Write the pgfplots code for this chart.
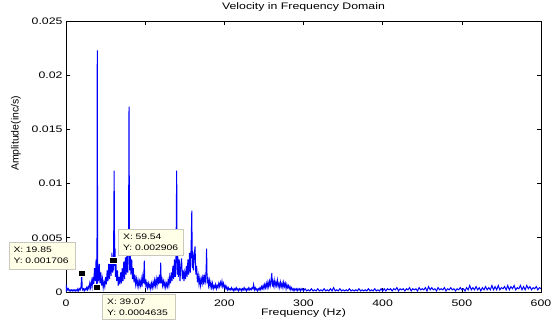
\documentclass[border=0pt]{standalone}
\usepackage{fontspec}
\setmainfont{Liberation Sans}[FakeStretch=1.3]
\newfontfamily\ylfont{Liberation Sans}
\usepackage{pgfplots}
\pgfplotsset{compat=1.18}
\definecolor{tipfill}{RGB}{255,255,232}
\definecolor{tipedge}{RGB}{200,200,190}
\begin{document}
\begin{tikzpicture}
\begin{axis}[
  scale only axis, width=475bp, height=271bp,
  xmin=0, xmax=600, ymin=0, ymax=0.025,
  xtick={0,100,200,300,400,500,600},
  xticklabels={0,,200,300,400,500,600},
  ytick={0,0.005,0.01,0.015,0.02,0.025},
  yticklabels={0,0.005,0.01,0.015,0.02,0.025},
  scaled y ticks=false,
  tick align=inside, major tick length=4bp,
  tick style={black, line width=0.6bp},
  axis line style={line width=0.9bp},
  ticklabel style={font=\fontsize{9.5}{11}\selectfont},
  xticklabel style={anchor=base, yshift=-14bp},
  title={Velocity in Frequency Domain},
  title style={font=\fontsize{9.5}{11}\selectfont, at={(axis description cs:0.5,1)}, anchor=base, yshift=6bp},
  xlabel={Frequency (Hz)},
  xlabel style={font=\fontsize{9.5}{11}\selectfont, at={(axis description cs:0.5,0)}, anchor=base, yshift=-23bp},
  ylabel={Amplitude(inc/s)},
  ylabel style={font=\ylfont\fontsize{10.5}{12}\selectfont, at={(axis description cs:0,0.585)}, anchor=center, yshift=50bp},
]
\addplot[blue, line width=1bp, mark=none] coordinates {
(0,0.0007)(0.5,0.0002)(1,0.0004)(2,0.0002)(3,0.0003)(4,0.0001)(5,0.0002)(6,0.0001)(7,0.0002)(8,0.0001)(9,0.0002)(10,0.0001)(11,0.0002)(12,0.0001)(13,0.0002)(14,0.0001)(15,0.0003)(16,0.0001)(17,0.0003)(18,0.0002)(19,0.0005)(19.85,0.001706)(20.5,0.0003)(21,0.0002)(22,0.0003)(23,0.0001)(24,0.0003)(25,0.0002)(26,0.0004)(27,0.0002)(28,0.0005)(29,0.0003)(30,0.0008)(31,0.0004)(32,0.0010)(33,0.0005)(34,0.0014)(35,0.0007)(36,0.0022)(37,0.0010)(38,0.0030)(38.6,0.0008)(39.07,0.0004635)(39.5,0.0223)(40,0.0008)(40.5,0.0024)(41,0.0010)(42,0.0026)(43,0.0008)(44,0.0018)(45,0.0006)(46,0.0012)(47,0.0004)(48,0.0009)(49,0.0005)
(50,0.0014)(51,0.0007)(52,0.0020)(53,0.0010)(54,0.0026)(55,0.0012)(56,0.0030)(57,0.0015)(58,0.0036)(59,0.0018)(59.54,0.002906)(60,0.0020)(60.8,0.0112)(61.5,0.0024)(62,0.0040)(62.5,0.0014)(63,0.0028)(64,0.0010)(65,0.0020)(66,0.0006)(67,0.0014)(68,0.0007)(69,0.0018)(70,0.0008)(71,0.0022)(72,0.0010)(73,0.0028)(74,0.0012)(75,0.0032)(76,0.0016)(77,0.0038)(78,0.0018)(79,0.0042)(79.6,0.0171)(80.3,0.0020)(81,0.0036)(82,0.0016)(83,0.0030)(84,0.0012)(85,0.0022)(86,0.0009)(87,0.0016)(88,0.0007)(89,0.0012)(90,0.0006)(91,0.0011)(92,0.0005)(93,0.0010)(94,0.0006)(95,0.0012)(96,0.0005)(97,0.0014)(98,0.0008)(98.9,0.0029)(99.6,0.0007)
(100,0.0012)(101,0.0005)(102,0.0009)(103,0.0004)(104,0.0008)(105,0.0004)(106,0.0007)(107,0.0003)(108,0.0008)(109,0.0004)(110,0.0009)(111,0.0005)(112,0.0011)(113,0.0006)(114,0.0012)(115,0.0006)(116,0.0014)(117,0.0007)(118,0.0016)(119,0.0008)(119.6,0.0027)(120.3,0.0008)(121,0.0014)(122,0.0006)(123,0.0010)(124,0.0005)(125,0.0009)(126,0.0004)(127,0.0008)(128,0.0005)(129,0.0011)(130,0.0006)(131,0.0014)(132,0.0008)(133,0.0018)(134,0.0010)(135,0.0024)(136,0.0012)(137,0.0030)(138,0.0014)(139,0.0034)(139.8,0.0112)(140.5,0.0016)(141,0.0036)(142,0.0014)(143,0.0030)(144,0.0010)(145,0.0024)(146,0.0031)(147,0.0012)(148,0.0020)(149,0.0010)
(150,0.0018)(151,0.0012)(152,0.0024)(153,0.0014)(154,0.0030)(155,0.0016)(156,0.0036)(157,0.0018)(158,0.0040)(158.9,0.0075)(159.6,0.0022)(160,0.0038)(161,0.0020)(162,0.0034)(163,0.0042)(164,0.0016)(165,0.0024)(166,0.0009)(167,0.0015)(168,0.0007)(169,0.0013)(170,0.0006)(171,0.0012)(172,0.0008)(173,0.0016)(174,0.0007)(175,0.0014)(176,0.0010)(177,0.0020)(177.6,0.0040)(178.3,0.0008)(179,0.0014)(180,0.0006)(181,0.0011)(182,0.0005)(183,0.0009)(184,0.0004)(185,0.0008)(186,0.0003)(187,0.0006)(188,0.0004)(189,0.0007)(190,0.0003)(191,0.0006)(192,0.0004)(193,0.0008)(194,0.0005)(195,0.0009)(196,0.0006)(197,0.0010)(198,0.0005)(199,0.0008)
(200,0.0004)(201,0.0006)(202,0.0003)(203,0.0005)(204,0.0002)(205,0.0004)(206,0.0002)(207,0.0003)(208,0.0002)(209,0.0004)(210,0.0002)(211,0.0003)(212,0.0001)(213,0.0003)(214,0.0002)(215,0.0004)(216,0.0002)(217,0.0003)(218,0.0001)(219,0.0003)(220,0.0002)(221,0.0003)(222,0.0001)(223,0.0003)(224,0.0002)(225,0.0004)(226,0.0002)(227,0.0003)(228,0.0001)(229,0.0003)(230,0.0002)(231,0.0004)(232,0.0002)(233,0.0003)(234,0.0002)(235,0.0004)(236,0.0003)(237,0.0007)(238,0.0002)(239,0.0004)(240,0.0002)(241,0.0003)(242,0.0001)(243,0.0003)(244,0.0002)(245,0.0004)(246,0.0002)(247,0.0005)(248,0.0003)(249,0.0006)
(250,0.0003)(251,0.0007)(252,0.0004)(253,0.0008)(254,0.0004)(255,0.0009)(256,0.0005)(257,0.0010)(258,0.0006)(259,0.0011)(260,0.00175)(260.6,0.0005)(261,0.0010)(262,0.0006)(263,0.0011)(264,0.0005)(265,0.0009)(266,0.0006)(267,0.0011)(268,0.0005)(269,0.0008)(270,0.0004)(271,0.0009)(272,0.0005)(273,0.0008)(274,0.0004)(275,0.0009)(276,0.0005)(277,0.0008)(278,0.0003)(279,0.0007)(280,0.0004)(281,0.0006)(282,0.0003)(283,0.0005)(284,0.0002)(285,0.0004)(286,0.0002)(287,0.0003)(288,0.0001)(289,0.0003)(290,0.0002)(291,0.0003)(292,0.0001)(293,0.0003)(294,0.0002)(295,0.0003)(296,0.0001)(297,0.0003)(298,0.0002)(299,0.0003)
(300,0.0001)(302,0.0003)(304,0.0001)(306,0.0002)(308,0.0001)(310,0.0003)(312,0.0001)(314,0.0002)(316,0.0001)(318,0.0003)(320,0.0001)(322,0.0002)(324,0.0001)(326,0.0003)(328,0.0001)(330,0.0002)(332,0.0001)(334,0.0003)(336,0.0001)(338,0.0004)(340,0.0001)(342,0.0002)(344,0.0001)(346,0.0003)(348,0.0001)(350,0.0002)(352,0.0001)(354,0.0002)(356,0.0001)(358,0.0003)(360,0.0001)(362,0.0002)(364,0.0001)(366,0.0002)(368,0.0001)(370,0.0003)(372,0.0001)(374,0.0002)(376,0.0001)(378,0.0002)(380,0.0001)(382,0.0003)(384,0.0001)(386,0.0002)(388,0.0001)(390,0.0003)(392,0.0001)(394,0.0002)(396,0.0001)(398,0.0003)
(400,0.0001)(402,0.0003)(404,0.0001)(406,0.0003)(408,0.0002)(410,0.0003)(412,0.0001)(414,0.0003)(416,0.0002)(418,0.0004)(420,0.0001)(422,0.0003)(424,0.0002)(426,0.0003)(428,0.0001)(430,0.0003)(432,0.0002)(434,0.0004)(436,0.0001)(438,0.0003)(440,0.0002)(442,0.0003)(444,0.0001)(446,0.0004)(448,0.0002)(450,0.0003)(452,0.0002)(454,0.0004)(456,0.0001)(458,0.0005)(460,0.0002)(462,0.0004)(464,0.0002)(466,0.0003)(468,0.0001)(470,0.0004)(472,0.0002)(474,0.0003)(476,0.0002)(478,0.0004)(480,0.0001)(482,0.0003)(484,0.0002)(486,0.0004)(488,0.0002)(490,0.0003)(492,0.0001)(494,0.0003)(496,0.0002)(498,0.0004)
(500,0.0002)(502,0.0003)(504,0.0001)(506,0.0004)(508,0.0002)(510,0.0006)(512,0.0002)(514,0.0004)(516,0.0002)(518,0.0005)(520,0.0002)(522,0.0004)(524,0.0001)(526,0.0004)(528,0.0002)(530,0.0005)(532,0.0002)(534,0.0004)(536,0.0002)(538,0.0006)(540,0.0002)(542,0.0005)(544,0.0002)(546,0.0006)(548,0.0002)(550,0.0004)(552,0.0003)(554,0.0005)(556,0.0002)(558,0.0006)(560,0.0002)(562,0.0005)(564,0.0003)(566,0.0006)(568,0.0002)(570,0.0004)(572,0.0003)(574,0.0006)(576,0.0002)(578,0.0005)(580,0.0002)(582,0.0006)(584,0.0003)(586,0.0005)(588,0.0002)(590,0.0004)(592,0.0003)(594,0.0005)(596,0.0002)(598,0.0004)(600,0.0003)
};
\addplot[only marks, mark=square*, mark size=2.9bp, mark options={fill=black, draw=white, line width=0.4bp, xscale=1.3}] coordinates {(19.85,0.001706)(39.07,0.0004635)(59.54,0.002906)};
\coordinate (m1) at (axis cs:19.85,0.001706);
\coordinate (m2) at (axis cs:39.07,0.0004635);
\coordinate (m3) at (axis cs:59.54,0.002906);
\end{axis}
\tikzset{tip/.style={draw=tipedge, fill=tipfill, line width=0.6bp, inner xsep=4.5bp, inner ysep=0pt, align=left, font=\fontsize{8}{11}\selectfont}}
\node[tip, anchor=south east, minimum width=66.7bp, minimum height=26.6bp, text width=57.7bp] at ([shift={(-5.7bp,4.2bp)}]m1) {X: 19.85\\Y: 0.001706};
\node[tip, anchor=north west, minimum width=72.4bp, minimum height=25.3bp, text width=63.4bp] at ([shift={(5.4bp,-7bp)}]m2) {X: 39.07\\Y: 0.0004635};
\node[tip, anchor=south west, minimum width=65bp, minimum height=26.7bp, text width=56bp] at ([shift={(5.2bp,4.5bp)}]m3) {X: 59.54\\Y: 0.002906};
\pgfresetboundingbox
\path (-66bp,-33bp) rectangle (489bp,292bp);
\end{tikzpicture}
\end{document}
